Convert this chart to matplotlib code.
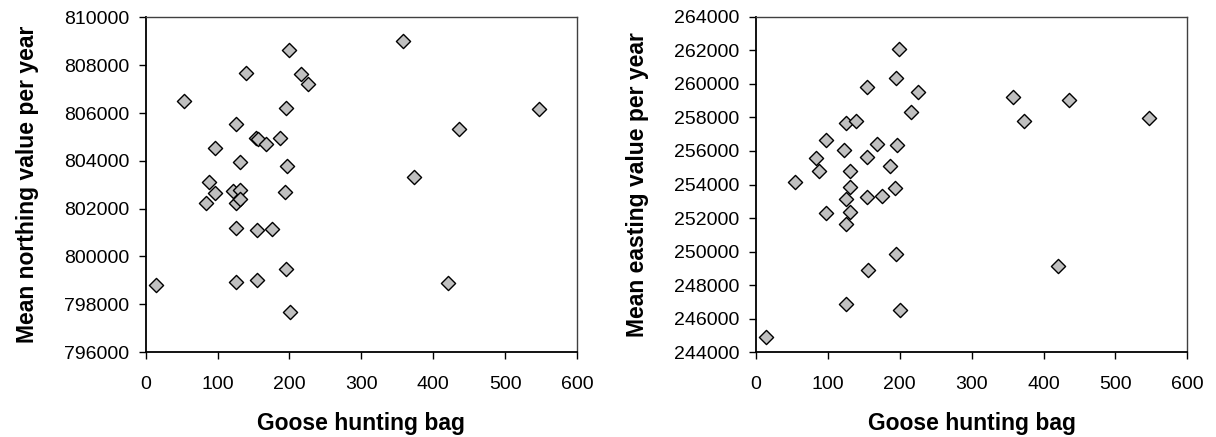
import matplotlib
matplotlib.use("Agg")
import matplotlib.pyplot as plt

plt.rcParams['font.family'] = ['Liberation Sans', 'DejaVu Sans']

# goose hunting bag per site (shared x values)
bag = [14, 54, 84, 88, 97, 97, 122,
       125, 125, 125, 126,
       131, 131, 131,
       139,
       155, 155, 154, 156,
       168, 176, 187,
       194, 197, 195, 195,
       199, 201, 216, 226,
       358, 373, 420, 436, 547]

northing = [798800, 806500, 802220, 803130, 804550, 802640, 802730,
            805560, 802220, 801190, 798930,
            803940, 802780, 802390,
            807680,
            799010, 801110, 804940, 804900,
            804710, 801150, 804940,
            802710, 803790, 806230, 799460,
            808640, 797680, 807640, 807230,
            809020, 803310, 798880, 805320, 806170]

easting = [244910, 254130, 255600, 254800, 256670, 252280, 256040,
           257650, 251650, 246860, 253120,
           254800, 253830, 252360,
           257800,
           259790, 253270, 255660, 248920,
           256430, 253330, 255120,
           253810, 256340, 260350, 249840,
           262090, 246540, 258340, 259490,
           259200, 257800, 249160, 259050, 257960]

fig = plt.figure(figsize=(12.16, 4.37), dpi=100)
ax1 = fig.add_axes([0.1198, 0.1945, 0.3547, 0.7655])
ax2 = fig.add_axes([0.6215, 0.1938, 0.3550, 0.7680])


def style(ax, y, ylim, ystep, ylabel):
    ax.scatter(bag, y, marker='D', s=52, facecolor='#c0c0c0',
               edgecolor='black', linewidth=1.0, zorder=3, clip_on=False)
    ax.set_xlim(0, 600)
    ax.set_ylim(*ylim)
    ax.set_xticks(range(0, 601, 100))
    ax.set_yticks(range(ylim[0], ylim[1] + 1, ystep))
    ax.tick_params(direction='out', length=5, width=1, labelsize=14,
                   colors='black')
    ax.tick_params(axis='x', pad=12)
    ax.tick_params(axis='y', pad=7)
    for side in ['left', 'bottom']:
        ax.spines[side].set_linewidth(1.3)
        ax.spines[side].set_color('black')
    for side in ['top', 'right']:
        ax.spines[side].set_linewidth(1.0)
        ax.spines[side].set_color('#404040')
    ax.set_xlabel('Goose hunting bag', fontsize=16.5, fontweight='bold',
                  labelpad=14)
    ax.set_ylabel(ylabel, fontsize=16.5, fontweight='bold', labelpad=18)


style(ax1, northing, (796000, 810000), 2000, 'Mean northing value per year')
style(ax2, easting, (244000, 264000), 2000, 'Mean easting value per year')

fig.savefig('out.png', dpi=100)
